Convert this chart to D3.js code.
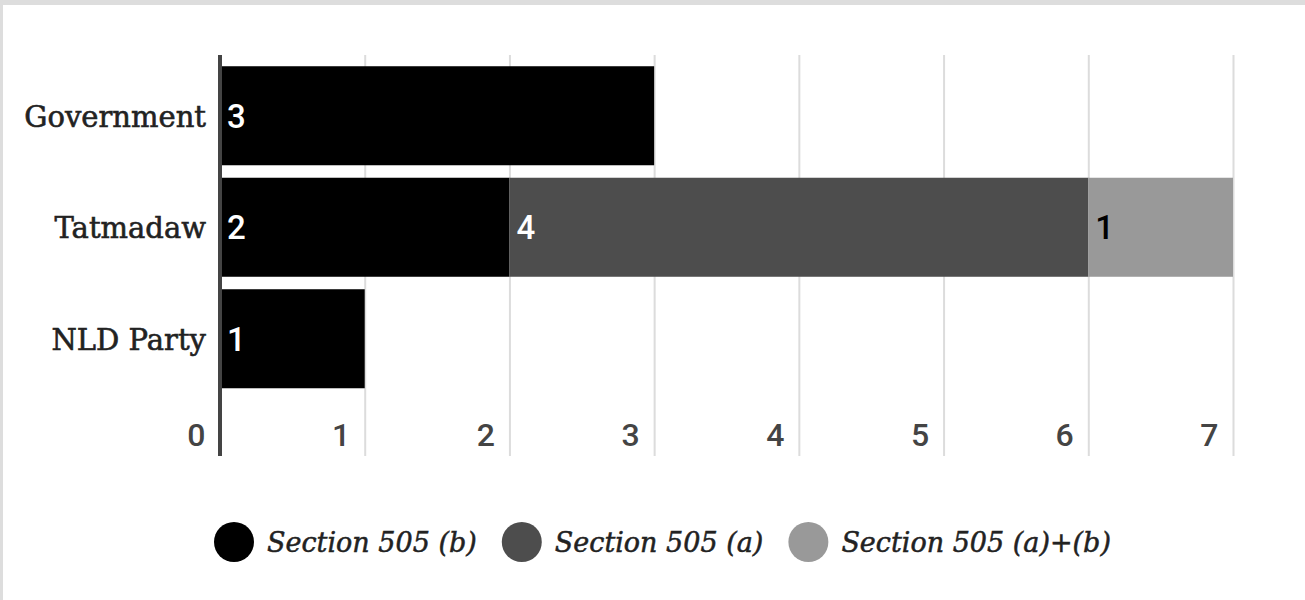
<html>
<head>
    <script src="https://d3js.org/d3.v7.min.js"></script>
    <style>
        body { margin: 0; background: #dddddd; }
        svg { display: block; }
        .gridlines line { stroke: #dcdcdc; stroke-width: 2; }
        .gridlines .domain { stroke: none; }
    </style>
</head>
<body>
    <svg width="1305" height="600"></svg>

    <script>
        const width = 1305, height = 600;

        const categories = ["Government", "Tatmadaw", "NLD Party"];
        const seriesNames = ["Section 505 (b)", "Section 505 (a)", "Section 505 (a)+(b)"];
        const seriesB = [3, 2, 1];
        const seriesA = [0, 4, 0];
        const seriesAB = [0, 1, 0];
        const xTicks = [0, 1, 2, 3, 4, 5, 6, 7];
        const colors = ["#000000", "#4d4d4d", "#999999"];
        const labelColors = ["#ffffff", "#ffffff", "#000000"];

        const svg = d3.select("svg");

        // white card over the grey page
        svg.append("rect")
           .attr("x", 3).attr("y", 5)
           .attr("width", width - 3).attr("height", height - 5)
           .attr("fill", "#fff");

        const rows = categories.map((c, i) => ({ cat: c, vals: [seriesB[i], seriesA[i], seriesAB[i]] }));
        const stack = d3.stack().keys([0, 1, 2]).value((d, k) => d.vals[k])(rows);

        const xScale = d3.scaleLinear().domain([0, 7]).range([220, 1233]);
        const yScale = d3.scaleBand().domain(categories).range([60, 394.5])
                         .paddingInner(0.112).paddingOuter(0.056);

        const axisY = 456;

        // gridlines + tick labels
        const gx = svg.append("g")
           .attr("class", "gridlines")
           .attr("transform", `translate(0,${axisY})`)
           .call(d3.axisBottom(xScale).tickValues(xTicks).tickFormat(d3.format("d"))
                   .tickSize(-(axisY - 55)).tickSizeOuter(0));
        gx.selectAll(".tick text")
          .attr("y", -10)
          .attr("dy", 0)
          .attr("x", -15)
          .attr("text-anchor", "end")
          .attr("font-family", "Roboto")
          .attr("font-weight", 500)
          .attr("font-size", 32)
          .attr("fill", "#444");
        gx.selectAll(".tick line").filter(d => d === 0).remove();

        // bars
        stack.forEach((layer, k) => {
            svg.append("g").selectAll("rect")
               .data(layer.filter(d => d[1] > d[0]))
               .enter().append("rect")
               .attr("x", d => xScale(d[0]))
               .attr("y", d => yScale(d.data.cat))
               .attr("width", d => xScale(d[1]) - xScale(d[0]))
               .attr("height", yScale.bandwidth())
               .attr("fill", colors[k]);

            svg.append("g").selectAll("text")
               .data(layer.filter(d => d[1] > d[0]))
               .enter().append("text")
               .attr("x", d => xScale(d[0]) + 7)
               .attr("y", d => yScale(d.data.cat) + yScale.bandwidth() / 2 + 12)
               .attr("font-family", "Roboto")
               .attr("font-weight", 500)
               .attr("font-size", 33)
               .attr("fill", labelColors[k])
               .text(d => d[1] - d[0]);
        });

        // zero line
        svg.append("line")
           .attr("x1", xScale(0)).attr("x2", xScale(0))
           .attr("y1", 55).attr("y2", axisY)
           .attr("stroke", "#444").attr("stroke-width", 4);

        // category labels
        svg.append("g").selectAll("text")
           .data(categories)
           .enter().append("text")
           .attr("x", 206)
           .attr("y", d => yScale(d) + yScale.bandwidth() / 2 + 11)
           .attr("text-anchor", "end")
           .attr("font-family", "DejaVu Serif")
           .attr("font-size", 29)
           .attr("fill", "#222")
           .attr("stroke", "#222")
           .attr("stroke-width", 0.6)
           .text(d => d);

        // legend
        const legend = svg.append("g");
        let cx = 234;
        seriesNames.forEach((name, k) => {
            legend.append("circle")
                  .attr("cx", cx).attr("cy", 542).attr("r", 20)
                  .attr("fill", colors[k]);
            const t = legend.append("text")
                  .attr("x", cx + 33).attr("y", 552)
                  .attr("font-family", "DejaVu Serif")
                  .attr("font-style", "italic")
                  .attr("font-size", 27)
                  .attr("fill", "#222")
                  .attr("stroke", "#222")
                  .attr("stroke-width", 0.5)
                  .text(name);
            cx = cx + 33 + t.node().getComputedTextLength() + 45;
        });
    </script>
</body>
</html>
